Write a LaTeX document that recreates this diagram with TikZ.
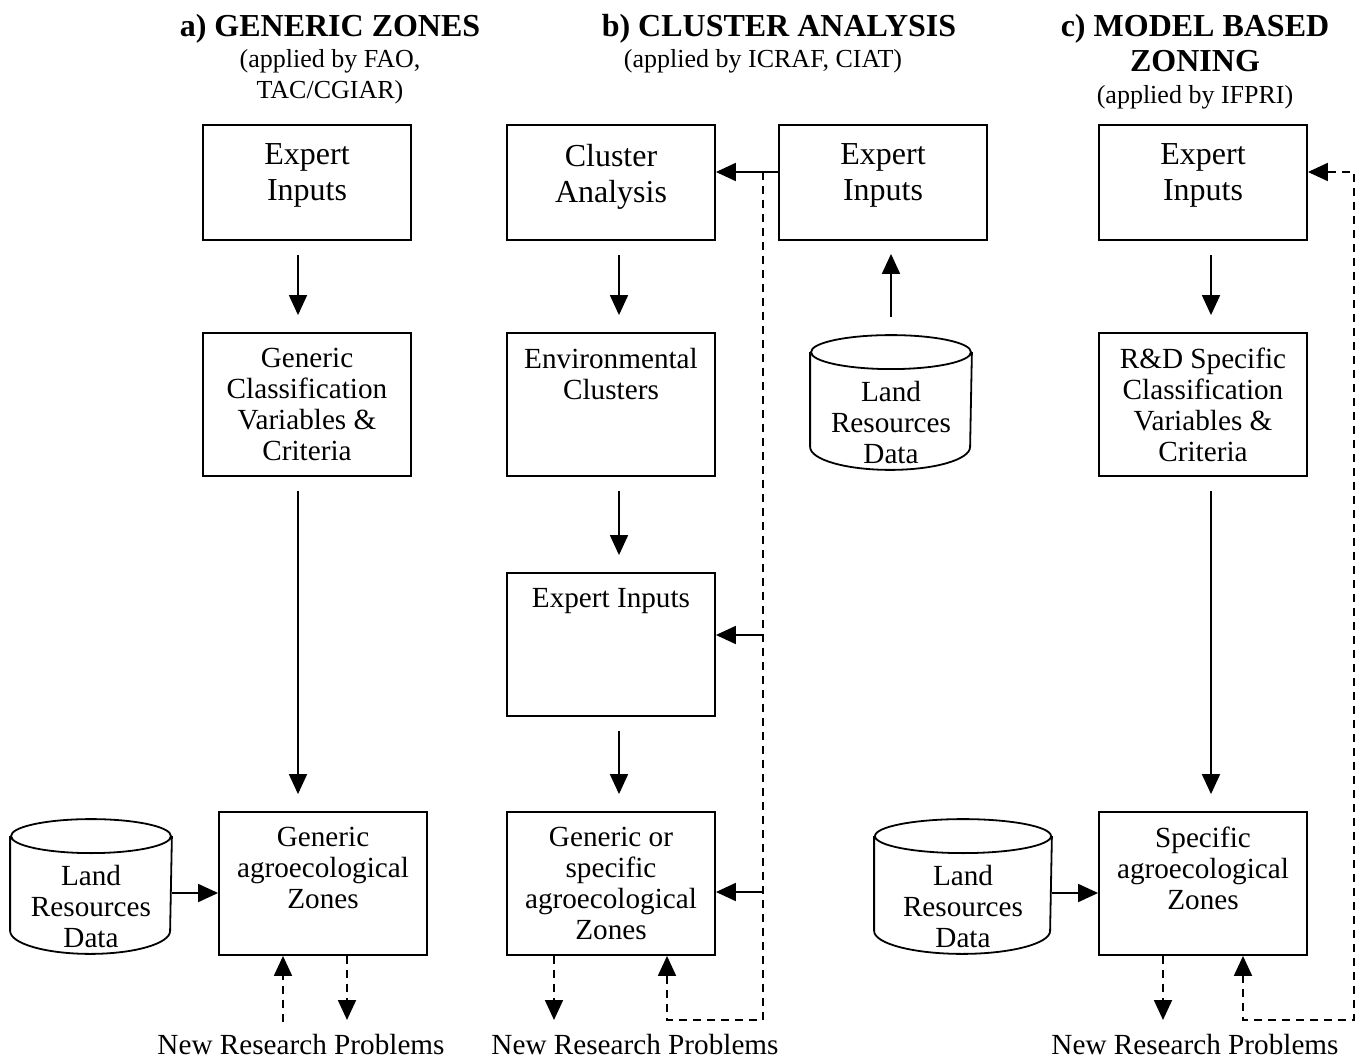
\documentclass[tikz,border=0pt]{standalone}
\usepackage{fontspec}
\setmainfont{Liberation Serif}
\usetikzlibrary{arrows.meta}

% box text: height, top gap, lines
\newcommand{\inbox}[3]{\parbox[c][#1][t]{100pt}{\centering\vspace*{#2}#3}}
% cylinder text, sits at the bottom
\newcommand{\incan}[1]{\parbox[c][66.5pt][b]{80pt}{\centering #1\par\vspace{2.5pt}}}

\begin{document}
\begin{tikzpicture}[
x=0.5pt, y=-0.5pt,
line width=0.9pt,
proc/.style={
  draw,
  rectangle,
  inner sep=0pt,
  minimum width=104pt
  },
can/.style={
  inner sep=0pt,
  minimum width=80pt
  },
smallfont/.style={font=\fontsize{14.6pt}{15.5pt}\selectfont},
bigfont/.style={font=\fontsize{16pt}{18pt}\selectfont},
head/.style={anchor=base, inner sep=0pt, font=\fontsize{16pt}{18pt}\selectfont\bfseries},
note/.style={anchor=base, inner sep=0pt, font=\fontsize{13pt}{15.5pt}\selectfont},
gap/.style={shorten <=7pt, shorten >=8.5pt},
fb/.style={dash pattern=on 4pt off 3pt},
>={Triangle[length=10pt,width=9pt]}
]
\useasboundingbox (0,0) rectangle (1355,1059);

% headings
\node[head] (tA) at (330,36.5) {a) GENERIC ZONES};
\node[note] (sA1) at (330,68) {(applied by FAO,};
\node[note] (sA2) at (330,99) {TAC/CGIAR)};
\node[head] (tB) at (779,36.5) {b) CLUSTER ANALYSIS};
\node[note] (sB) at (763,68) {(applied by ICRAF, CIAT)};
\node[head] (tC1) at (1195,36.5) {c) MODEL BASED};
\node[head] (tC2) at (1195,71.5) {ZONING};
\node[note] (sC) at (1195,104) {(applied by IFPRI)};

% column a
\node[proc,bigfont] (eiA) at (307,182.5) {\inbox{57.5pt}{9.4pt}{Expert\\Inputs}};
\node[proc,smallfont] (gcA) at (307,404.5)
  {\inbox{71.5pt}{7.5pt}{Generic\\Classification\\Variables \&\\Criteria}};
\node[proc,smallfont] (gzA) at (323,883.5)
  {\inbox{71.5pt}{7.5pt}{Generic\\agroecological\\Zones}};
\node[can,smallfont] (lrA) at (91,886.5) {\incan{Land\\Resources\\Data}};

% column b
\node[proc,bigfont] (clB) at (611,182.5) {\inbox{57.5pt}{9.4pt}{Cluster\\Analysis}};
\node[proc,bigfont] (eiB) at (883,182.5) {\inbox{57.5pt}{9.4pt}{Expert\\Inputs}};
\node[proc,smallfont] (ecB) at (611,404.5)
  {\inbox{71.5pt}{7.5pt}{Environmental\\Clusters}};
\node[proc,smallfont] (emB) at (611,644.5) {\inbox{71.5pt}{7.5pt}{Expert Inputs}};
\node[proc,smallfont] (gzB) at (611,883.5)
  {\inbox{71.5pt}{7.5pt}{Generic or\\specific\\agroecological\\Zones}};
\node[can,smallfont] (lrB) at (891,402.5) {\incan{Land\\Resources\\Data}};

% column c
\node[proc,bigfont] (eiC) at (1203,182.5) {\inbox{57.5pt}{9.4pt}{Expert\\Inputs}};
\node[proc,smallfont] (rdC) at (1203,404.5)
  {\inbox{71.5pt}{7.5pt}{R\&D Specific\\Classification\\Variables \&\\Criteria}};
\node[proc,smallfont] (gzC) at (1203,883.5)
  {\inbox{71.5pt}{7.5pt}{Specific\\agroecological\\Zones}};
\node[can,smallfont,minimum width=88pt] (lrC) at (963,886.5) {\incan{Land\\Resources\\Data}};

% cylinders
\foreach \c/\r in {lrA/40pt,lrB/40pt,lrC/44pt}
  \draw ([yshift=-8.5pt]\c.north west) -- ([yshift=11.5pt]\c.south west)
    arc[start angle=180, end angle=360, x radius=\r, y radius=11.5pt]
    -- ([yshift=-8.5pt]\c.north east)
    ([yshift=-8.5pt]\c.north) ellipse[x radius=\r, y radius=8.5pt];

% bottom texts
\node[smallfont,anchor=base] (npA) at (301,1054) {New Research Problems};
\node[smallfont,anchor=base] (npB) at (635,1054) {New Research Problems};
\node[smallfont,anchor=base] (npC) at (1195,1054) {New Research Problems};

% column a flow
\foreach \u/\v in {eiA/gcA,gcA/gzA}
  \draw[->,gap] ([xshift=-4.5pt]\u.south) -- ([xshift=-4.5pt]\u.south |- \v.north);
\draw[->] ([yshift=-3.25pt]lrA.east) -- ([yshift=-3.25pt]lrA.east -| gzA.west);
\coordinate (nA1) at (283,1022);
\coordinate (nA2) at (347,1020);
\draw[->,fb] (nA1) -- (nA1 |- gzA.south);
\draw[->,fb] (nA2 |- gzA.south) -- (nA2);

% column b flow
\foreach \u/\v in {clB/ecB,ecB/emB,emB/gzB}
  \draw[->,gap] ([xshift=4pt]\u.south) -- ([xshift=4pt]\u.south |- \v.north);
\draw[->,shorten <=9pt,shorten >=6.5pt] (lrB.north) -- (lrB.north |- eiB.south);
\coordinate (jB) at (763,172);
\coordinate (kB) at (763,1020);
\coordinate (tB1) at (763,635);
\coordinate (tB2) at (763,892);
\draw[->] (eiB.west |- jB) -- (clB.east |- jB);
\draw[->,fb] (jB) -- (kB) -| ([xshift=28pt]gzB.south);
\draw[->] (tB1) -- (tB1 -| emB.east);
\draw[->] (tB2) -- (tB2 -| gzB.east);
\coordinate (nB) at (554,1020);
\draw[->,fb] (nB |- gzB.south) -- (nB);

% column c flow
\foreach \u/\v in {eiC/rdC,rdC/gzC}
  \draw[->,gap] ([xshift=4pt]\u.south) -- ([xshift=4pt]\u.south |- \v.north);
\draw[->] ([yshift=-3.25pt]lrC.east) -- ([yshift=-3.25pt]lrC.east -| gzC.west);
\coordinate (jC) at (1354,172);
\coordinate (kC) at (1354,1020);
\draw[<->,fb] ([xshift=20pt]gzC.south) |- (kC) -- (jC) -- (jC -| eiC.east);
\coordinate (nC) at (1163,1020);
\draw[->,fb] (nC |- gzC.south) -- (nC);
\end{tikzpicture}
\end{document}
